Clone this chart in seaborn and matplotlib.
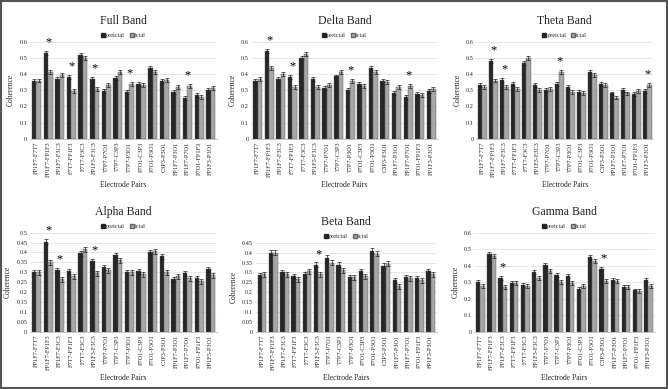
import numpy as np
import pandas as pd
import matplotlib
matplotlib.use('Agg')
import matplotlib.pyplot as plt
import seaborn as sns
from matplotlib.patches import Patch, Rectangle

sns.set_theme(style='white')
plt.rcParams['font.family'] = ['Liberation Serif', 'DejaVu Serif']

pairs = ['FP1F7-F7T7', 'FP1F7-FP1F3', 'FP1F7-F3C3', 'F7T7-FP1F3', 'F7T7-F3C3',
         'FP1F3-F3C3', 'T7P7-P7O1', 'T7P7-C3P3', 'T7P7-P3O1', 'P7O1-C3P3',
         'P7O1-P3O1', 'C3P3-P3O1', 'FP1F7-P3O1', 'FP1F7-P7O1', 'P7O1-FP1F3',
         'FP1F3-P3O1']

# coherence values (preictal / ictal)
full_pre = [0.355, 0.53, 0.37, 0.38, 0.515, 0.37, 0.295, 0.375, 0.29, 0.34, 0.44, 0.355, 0.29, 0.25, 0.27, 0.30]
full_ict = [0.36, 0.415, 0.395, 0.295, 0.50, 0.31, 0.335, 0.415, 0.34, 0.33, 0.41, 0.365, 0.32, 0.325, 0.26, 0.315]
full_stars = [1, 3, 5, 8, 13]

delta_pre = [0.36, 0.54, 0.37, 0.38, 0.50, 0.37, 0.315, 0.385, 0.30, 0.34, 0.44, 0.36, 0.285, 0.26, 0.275, 0.295]
delta_ict = [0.37, 0.435, 0.40, 0.32, 0.525, 0.32, 0.33, 0.41, 0.355, 0.325, 0.41, 0.35, 0.32, 0.325, 0.27, 0.31]
delta_stars = [1, 3, 8, 13]

theta_pre = [0.33, 0.48, 0.365, 0.34, 0.47, 0.33, 0.30, 0.34, 0.32, 0.29, 0.41, 0.34, 0.28, 0.30, 0.275, 0.295]
theta_ict = [0.32, 0.36, 0.32, 0.305, 0.50, 0.30, 0.305, 0.41, 0.29, 0.285, 0.395, 0.335, 0.255, 0.28, 0.295, 0.335]
theta_stars = [1, 2, 7, 15]

alpha_pre = [0.30, 0.455, 0.31, 0.305, 0.395, 0.355, 0.325, 0.385, 0.30, 0.305, 0.40, 0.38, 0.265, 0.295, 0.27, 0.315]
alpha_ict = [0.30, 0.35, 0.265, 0.28, 0.415, 0.295, 0.31, 0.36, 0.30, 0.29, 0.405, 0.30, 0.28, 0.27, 0.255, 0.285]
alpha_stars = [1, 2, 5]

beta_pre = [0.285, 0.40, 0.30, 0.28, 0.29, 0.34, 0.375, 0.34, 0.275, 0.305, 0.41, 0.335, 0.26, 0.275, 0.27, 0.305]
beta_ict = [0.29, 0.40, 0.29, 0.265, 0.305, 0.29, 0.35, 0.31, 0.275, 0.28, 0.395, 0.345, 0.23, 0.27, 0.26, 0.29]
beta_stars = [5]

gamma_pre = [0.30, 0.47, 0.325, 0.295, 0.285, 0.36, 0.405, 0.345, 0.34, 0.26, 0.45, 0.38, 0.315, 0.27, 0.25, 0.315]
gamma_ict = [0.275, 0.46, 0.27, 0.295, 0.275, 0.325, 0.37, 0.30, 0.295, 0.275, 0.43, 0.31, 0.31, 0.27, 0.245, 0.28]
gamma_stars = [2, 11]

err = 0.012

bands = [
    ('Full Band', full_pre, full_ict, full_stars, 0.6, 0.1, [0.045, 0.643, 0.280, 0.250]),
    ('Delta Band', delta_pre, delta_ict, delta_stars, 0.6, 0.1, [0.376, 0.643, 0.279, 0.250]),
    ('Theta Band', theta_pre, theta_ict, theta_stars, 0.6, 0.1, [0.713, 0.643, 0.265, 0.250]),
    ('Alpha Band', alpha_pre, alpha_ict, alpha_stars, 0.5, 0.05, [0.045, 0.147, 0.280, 0.255]),
    ('Beta Band', beta_pre, beta_ict, beta_stars, 0.45, 0.05, [0.383, 0.147, 0.271, 0.229]),
    ('Gamma Band', gamma_pre, gamma_ict, gamma_stars, 0.6, 0.1, [0.710, 0.147, 0.270, 0.255]),
]

dark = '#262626'
light = '#a6a6a6'

fig = plt.figure(figsize=(6.68, 3.89), dpi=100)
fig.patches.append(Rectangle((0.002, 0.003), 0.996, 0.994, transform=fig.transFigure,
                             fill=False, edgecolor='#555555', linewidth=1.5))

for title, pre, ict, stars, ymax, step, pos in bands:
    ax = fig.add_axes(pos)
    df = pd.DataFrame({'pair': pairs * 2,
                       'coherence': pre + ict,
                       'phase': ['preictal'] * len(pairs) + ['ictal'] * len(pairs)})
    sns.barplot(data=df, x='pair', y='coherence', hue='phase', order=pairs,
                hue_order=['preictal', 'ictal'], palette=[dark, light],
                errorbar=None, width=0.78, legend=False, ax=ax,
                edgecolor='#555555', linewidth=0.3)
    bars = ax.patches[:2 * len(pairs)]
    for i, b in enumerate(bars):
        x = b.get_x() + b.get_width() / 2
        ax.errorbar(x, b.get_height(), yerr=err, color='#222222', elinewidth=0.5,
                    capsize=1.2, capthick=0.5)
    for s in stars:
        top = max(pre[s], ict[s]) + err
        ax.text(s, top + ymax * 0.09, '*', ha='center', va='center', fontsize=9,
                color='black', clip_on=False)
    ax.set_ylim(0, ymax)
    ax.set_xlim(-0.55, len(pairs) - 0.45)
    ticks = np.arange(0, ymax + 1e-9, step)
    ax.set_yticks(ticks)
    ax.set_yticklabels([f'{t:g}' for t in ticks], fontsize=4.5)
    ax.yaxis.grid(True, color='#dddddd', linewidth=0.5)
    ax.set_axisbelow(True)
    for sp in ['top', 'right', 'left']:
        ax.spines[sp].set_visible(False)
    ax.spines['bottom'].set_color('#bbbbbb')
    ax.spines['bottom'].set_linewidth(0.6)
    ax.tick_params(axis='both', length=0, pad=2)
    ax.set_xticks(range(len(pairs)))
    ax.set_xticklabels(pairs, rotation=90, fontsize=4.5)
    ax.set_xlabel('Electrode Pairs', fontsize=5.5, labelpad=3)
    ax.set_ylabel('Coherence', fontsize=5.5, labelpad=3)
    ax.set_title(title, fontsize=8.5, pad=13)
    handles = [Patch(facecolor=dark, edgecolor=dark), Patch(facecolor=light, edgecolor='#666666')]
    ax.legend(handles, ['preictal', 'ictal'], loc='lower center', bbox_to_anchor=(0.5, 1.0),
              ncol=2, frameon=False, fontsize=4.5, handlelength=0.6, handleheight=0.6,
              handletextpad=0.2, columnspacing=0.8, borderpad=0.1)

fig.savefig('out.png', dpi=100)
